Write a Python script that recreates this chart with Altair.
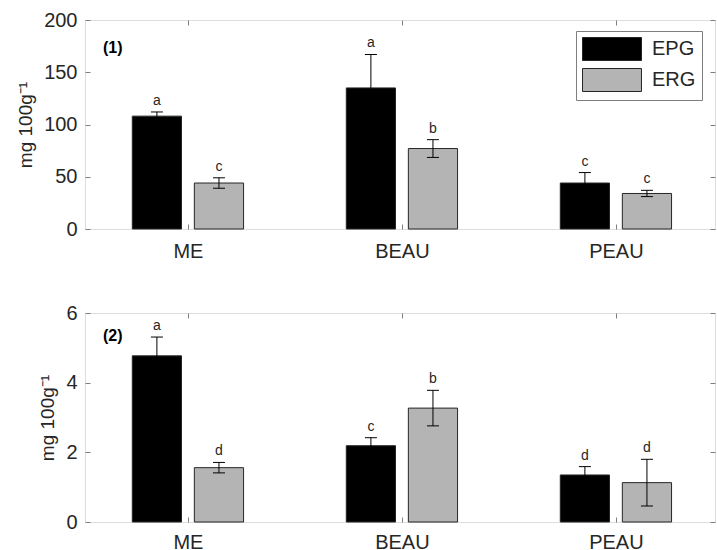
import altair as alt
import pandas as pd

categories = ["ME", "BEAU", "PEAU"]
groups = ["EPG", "ERG"]
panel_labels = ["(1)", "(2)"]
y_title = "mg 100g⁻¹"

p1_epg = [108, 135, 44]
p1_epg_err = [4, 32, 10]
p1_erg = [44, 77, 34]
p1_erg_err = [5, 8.5, 3]
p1_epg_letters = ["a", "a", "c"]
p1_erg_letters = ["c", "b", "c"]

p2_epg = [4.77, 2.19, 1.35]
p2_epg_err = [0.54, 0.23, 0.24]
p2_erg = [1.56, 3.27, 1.13]
p2_erg_err = [0.15, 0.51, 0.67]
p2_epg_letters = ["a", "c", "d"]
p2_erg_letters = ["d", "b", "d"]

FONT = "Liberation Sans"
TXT = "#262626"
BOX = "#7f7f7f"


def table(epg, epg_err, erg, erg_err, l1, l2):
    rows = []
    for i, c in enumerate(categories):
        rows.append(dict(cat=c, idx=i + 1, group="EPG", value=epg[i], err=epg_err[i], letter=l1[i]))
        rows.append(dict(cat=c, idx=i + 1, group="ERG", value=erg[i], err=erg_err[i], letter=l2[i]))
    return pd.DataFrame(rows)


label_expr = "[" + ",".join("'%s'" % c for c in categories) + "][datum.value - 1]"


def panel(df, ymax, yvals, label, label_y, show_legend, xpad):
    base = alt.Chart(df).transform_calculate(
        xc="datum.idx + (datum.group == 'EPG' ? -0.145 : 0.145)"
    ).transform_calculate(
        x0="datum.xc - 0.115", x1="datum.xc + 0.115",
        lo="datum.value - datum.err", hi="datum.value + datum.err",
    )
    xscale = alt.Scale(domain=[0.519, 3.463], nice=False, zero=False)
    yscale = alt.Scale(domain=[0, ymax], nice=False, zero=True)

    xaxis = alt.Axis(values=[1, 2, 3], labelExpr=label_expr, title=None, grid=False,
                     domain=False, tickSize=5, offset=-5, tickColor=BOX,
                     labelFontSize=20, labelFont=FONT, labelColor=TXT, labelPadding=xpad)
    yaxis = alt.Axis(values=yvals, title=y_title, grid=False, domain=False, tickSize=5,
                     offset=-5, tickColor=BOX, labelFontSize=20, labelFont=FONT,
                     labelColor=TXT, labelPadding=8, titleFontSize=19, titleFont=FONT,
                     titleFontWeight="normal", titleColor=TXT, titlePadding=8)
    xaxis_top = alt.Axis(values=[1, 2, 3], orient="top", labels=False, title=None, grid=False,
                         domain=False, tickSize=5, offset=-5, tickColor=BOX)
    yaxis_right = alt.Axis(values=yvals, orient="right", labels=False, title=None, grid=False,
                           domain=False, tickSize=5, offset=-5, tickColor=BOX)

    color = alt.Color(
        "group:N",
        scale=alt.Scale(domain=groups, range=["#000000", "#b4b4b4"]),
        legend=alt.Legend(
            title=None, orient="none", legendX=491, legendY=11,
            symbolType="M-1,-1H4.13V1H-1Z", symbolSize=529,
            symbolStrokeColor=TXT, symbolStrokeWidth=1, symbolOpacity=1,
            labelFontSize=20, labelFont=FONT, labelColor=TXT, labelOffset=46,
            strokeColor=BOX, fillColor="white", padding=6, rowPadding=3,
        ) if show_legend else None,
    )

    bars = base.mark_bar(stroke=TXT, strokeWidth=1, opacity=1).encode(
        x=alt.X("x0:Q", scale=xscale, axis=xaxis),
        x2="x1:Q",
        y=alt.Y("value:Q", scale=yscale, axis=yaxis),
        y2=alt.datum(0),
        color=color,
    )
    rules = base.mark_rule(color="#000000", strokeWidth=1).encode(
        x=alt.X("xc:Q", scale=xscale, axis=xaxis_top),
        y=alt.Y("lo:Q", scale=yscale, axis=yaxis_right),
        y2="hi:Q",
    )
    caps_hi = base.mark_tick(orient="horizontal", size=12, thickness=1, color="#000000", opacity=1).encode(
        x=alt.X("xc:Q", scale=xscale, axis=None),
        y=alt.Y("hi:Q", scale=yscale, axis=None),
    )
    caps_lo = base.mark_tick(orient="horizontal", size=12, thickness=1, color="#000000", opacity=1).encode(
        x=alt.X("xc:Q", scale=xscale, axis=None),
        y=alt.Y("lo:Q", scale=yscale, axis=None),
    )
    letters = base.mark_text(baseline="bottom", dy=-4, fontSize=14, font=FONT, color=TXT).encode(
        x=alt.X("xc:Q", scale=xscale, axis=None),
        y=alt.Y("hi:Q", scale=yscale, axis=None),
        text="letter:N",
    )
    plabel = alt.Chart(pd.DataFrame({"t": [label]})).mark_text(
        align="left", baseline="middle", fontSize=16, fontWeight="bold", font=FONT, color="#000000"
    ).encode(x=alt.value(18), y=alt.value(label_y), text="t:N")

    return alt.layer(bars, rules, caps_hi, caps_lo, letters, plabel).resolve_axis(
        x="independent", y="independent"
    ).properties(width=630, height=209)


top = panel(table(p1_epg, p1_epg_err, p1_erg, p1_erg_err, p1_epg_letters, p1_erg_letters),
            200, [0, 50, 100, 150, 200], panel_labels[0], 27.5, True, 12)
bottom = panel(table(p2_epg, p2_epg_err, p2_erg, p2_erg_err, p2_epg_letters, p2_erg_letters),
               6, [0, 2, 4, 6], panel_labels[1], 22.5, False, 10)

chart = alt.vconcat(top, bottom, spacing=40).resolve_scale(color="independent").properties(
    padding={"left": 16, "top": 9, "right": 0, "bottom": 0}
).configure_view(stroke=BOX, strokeWidth=1).configure(background="white")

chart.save("out.html", embed_options={"renderer": "svg", "actions": False})
